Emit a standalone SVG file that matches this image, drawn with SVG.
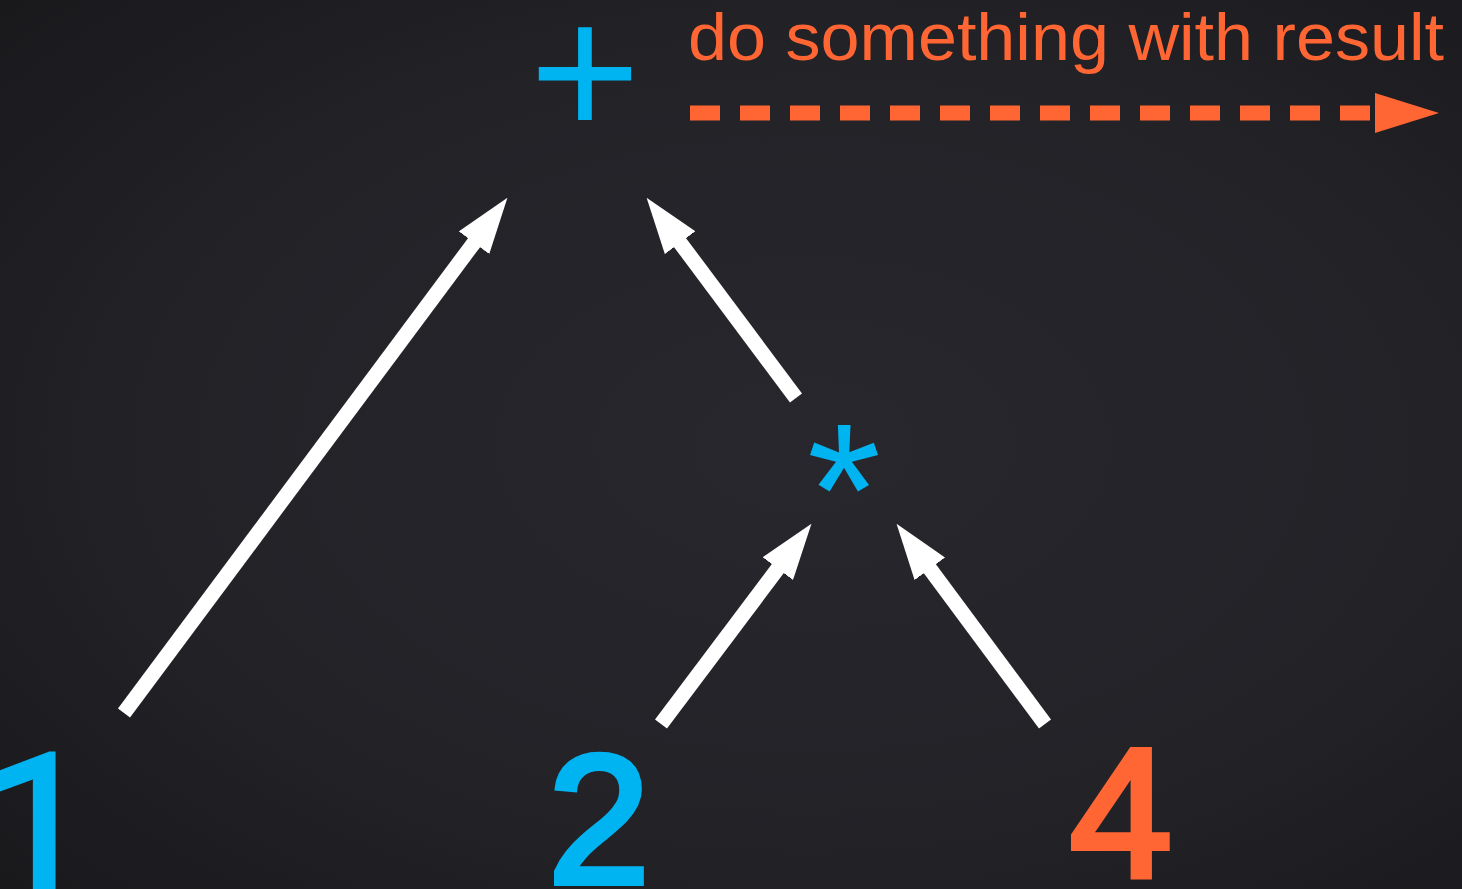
<svg xmlns="http://www.w3.org/2000/svg" width="1462" height="889" viewBox="0 0 1462 889">
  <defs>
    <radialGradient id="bg" cx="55%" cy="50%" r="75%">
      <stop offset="0" stop-color="#27272d"/>
      <stop offset="0.6" stop-color="#222227"/>
      <stop offset="1" stop-color="#19191c"/>
    </radialGradient>
    <marker id="whiteHead" markerUnits="userSpaceOnUse" markerWidth="56" markerHeight="38" viewBox="0 0 56 38" refX="1" refY="19" orient="auto">
      <path d="M0,0 L56,19 L0,38 Z" fill="#ffffff"/>
    </marker>
    <marker id="orangeHead" markerUnits="userSpaceOnUse" markerWidth="70" markerHeight="40" viewBox="-5 0 70 40" refX="-5" refY="20" orient="auto">
      <path d="M0,0 L64,20 L0,40 Z" fill="#ff6633"/>
    </marker>
  </defs>
  <style>
    .blue { fill: #00b4f2; }
    .orange { fill: #ff6633; }
    .num { font-family: "Liberation Sans", Arial, sans-serif; font-size: 184px; text-anchor: middle; stroke-width: 6; stroke-linejoin: miter; }
    .num.one { font-family: Roboto, "Liberation Sans", sans-serif; text-anchor: start; }
    .num.blue { stroke: #00b4f2; }
    .num.orange { stroke: #ff6633; }
    .op { font-family: "Liberation Sans", Arial, sans-serif; text-anchor: middle; font-size: 190px; }
    .label { font-family: "Liberation Sans", Arial, sans-serif; font-size: 67px; }
    .arrow { stroke: #ffffff; stroke-width: 15; fill: none; stroke-linecap: butt; marker-end: url(#whiteHead); }
    .dashed { stroke: #ff6633; stroke-width: 15; fill: none; stroke-dasharray: 30 20; marker-end: url(#orangeHead); }
  </style>
  <rect x="0" y="0" width="1462" height="889" fill="url(#bg)"/>

  <g id="node-plus">
    <text class="op blue" x="585" y="137">+</text>
  </g>
  <g id="node-times">
    <text class="op blue" x="844" y="555">*</text>
  </g>
  <g id="node-1">
    <text class="num one blue" x="-13" y="886">1</text>
  </g>
  <g id="node-2">
    <text class="num blue" x="599" y="883">2</text>
  </g>
  <g id="node-4">
    <text class="num orange" x="1121" y="877">4</text>
  </g>
  <g id="result-label">
    <text class="label orange" x="688" y="60" textLength="756" lengthAdjust="spacingAndGlyphs">do something with result</text>
  </g>

  <g id="connectors">
    <line class="arrow" x1="124" y1="713" x2="474.6" y2="241.9"/>
    <line class="arrow" x1="796" y1="398" x2="679.5" y2="241.9"/>
    <line class="arrow" x1="661" y1="724" x2="778.4" y2="567.8"/>
    <line class="arrow" x1="1045" y1="724" x2="929.3" y2="568"/>
    <line class="dashed" x1="690" y1="113" x2="1370" y2="113"/>
  </g>
</svg>
